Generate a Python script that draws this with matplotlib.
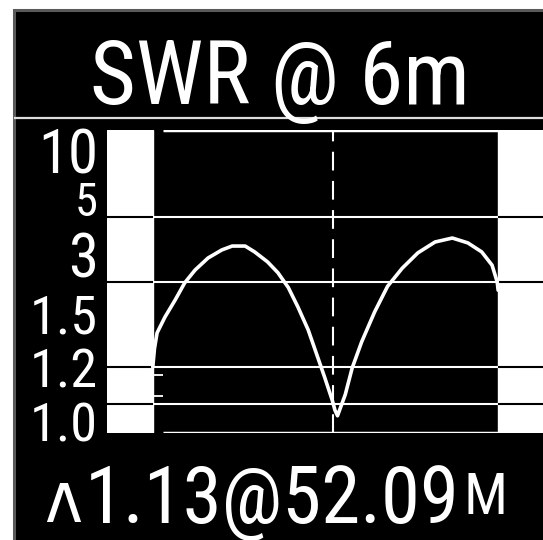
import matplotlib
matplotlib.use("Agg")
import matplotlib.pyplot as plt
from matplotlib.patches import Rectangle

# 字體：盡量用窄字型模仿 LCD 顯示
plt.rcParams['font.family'] = ['Roboto Condensed', 'DejaVu Sans']
plt.rcParams['font.stretch'] = 'condensed'

W, H = 543, 540

title = "SWR @ 6m"
freq_mhz = [50.00, 50.02, 50.05, 50.14, 50.26, 50.37, 50.49, 50.64, 50.80, 50.92,
            51.07, 51.18, 51.33, 51.45, 51.57, 51.68, 51.80, 51.91, 51.99, 52.08,
            52.11, 52.14, 52.23, 52.31, 52.42, 52.57, 52.72, 52.89, 53.07, 53.27,
            53.47, 53.65, 53.81, 53.93, 53.99, 54.00]
swr = [1.65, 1.90, 2.14, 2.41, 2.75, 3.13, 3.45, 3.78, 4.02, 4.14,
       4.14, 3.96, 3.67, 3.38, 3.02, 2.61, 2.19, 1.78, 1.53, 1.28,
       1.19, 1.14, 1.34, 1.64, 2.00, 2.51, 3.05, 3.50, 3.93, 4.27,
       4.40, 4.24, 3.96, 3.58, 3.15, 2.96]
band_lo, band_hi = 50.0, 54.0
min_freq, min_swr = 52.09, 1.13
grid_swr = [1.25, 1.65, 3.15, 5.15]
minor_swr = [1.32, 1.55]
scale_labels = ["10", "5", "3", "1.5", "1.2", "1.0"]
label_baseline_px = [173, 216, 277, 333, 387, 442]
label_width_px = [60, 23, 30, 68, 68, 68]


def fx(x):
    return x / W


def fy(y):
    return 1 - y / H


fig = plt.figure(figsize=(W / 100, H / 100), dpi=100, facecolor='white')
renderer = fig.canvas.get_renderer()


def fit(t, width_px):
    # 依螢幕上的寬度調整字級
    w = t.get_window_extent(renderer).width
    t.set_fontsize(t.get_fontsize() * width_px / w)


# LCD frame
fig.patches.append(Rectangle((fx(13.5), fy(560)), 1, fy(9.5) - fy(560),
                             transform=fig.transFigure, facecolor='black',
                             edgecolor='#5a5a5a', linewidth=2.2, zorder=-5))
fig.add_artist(plt.Line2D([fx(15), 1], [fy(118), fy(118)], color='#dddddd',
                          linewidth=1.6, transform=fig.transFigure))

t = fig.text(fx(280), fy(104), title, color='white', fontsize=64,
             ha='center', va='baseline')
fit(t, 380)

# plot area
ax = fig.add_axes([fx(107), fy(433), fx(543) - fx(107), fy(130) - fy(433)])
ax.set_zorder(2)
ax.set_facecolor('black')
ax.set_yscale('log')
ax.set_xlim(49.47, 54.52)
ax.set_ylim(1.0, 10.0)
for s in ax.spines.values():
    s.set_visible(False)
ax.set_xticks([])
ax.set_yticks([])
ax.minorticks_off()

# out-of-band areas
ax.axvspan(49.47, band_lo, color='white', zorder=1)
ax.axvspan(band_hi, 54.52, color='white', zorder=1)

# grid: white on black, black on white
for g in grid_swr:
    ax.axhline(g, color='white', linewidth=1.5, zorder=0.5)
    ax.hlines(g, 49.47, band_lo, color='black', linewidth=1.5, zorder=2)
    ax.hlines(g, band_hi, 54.52, color='black', linewidth=1.5, zorder=2)
for g in [1.0, 10.0]:
    ax.hlines(g, band_lo + 0.12, band_hi, color='white', linewidth=2.5,
              zorder=0.5)
for g in minor_swr:
    ax.hlines(g, band_lo, band_lo + 0.12, color='white', linewidth=1.3,
              zorder=2)

ax.axvline(min_freq, color='white', linewidth=1.5, linestyle=(0, (9, 5)),
           zorder=2)
ax.plot(freq_mhz, swr, color='white', linewidth=2.6, zorder=3,
        solid_joinstyle='round', solid_capstyle='round')

for lab, b, w in zip(scale_labels, label_baseline_px, label_width_px):
    t = fig.text(fx(98), fy(b), lab, color='white', fontsize=44,
                 ha='right', va='baseline')
    fit(t, w)

# marker readout
t = fig.text(fx(44), fy(522), "\u028c", color='white', fontsize=46,
             ha='left', va='baseline')
fit(t, 38)
t = fig.text(fx(85), fy(523), f"{min_swr:.2f}@{min_freq:.2f}", color='white',
             fontsize=62, ha='left', va='baseline')
fit(t, 375)
t = fig.text(fx(464), fy(514), "M", color='white', fontsize=50,
             ha='left', va='baseline')
fit(t, 44)

fig.savefig('out.png', dpi=100, facecolor='white')
